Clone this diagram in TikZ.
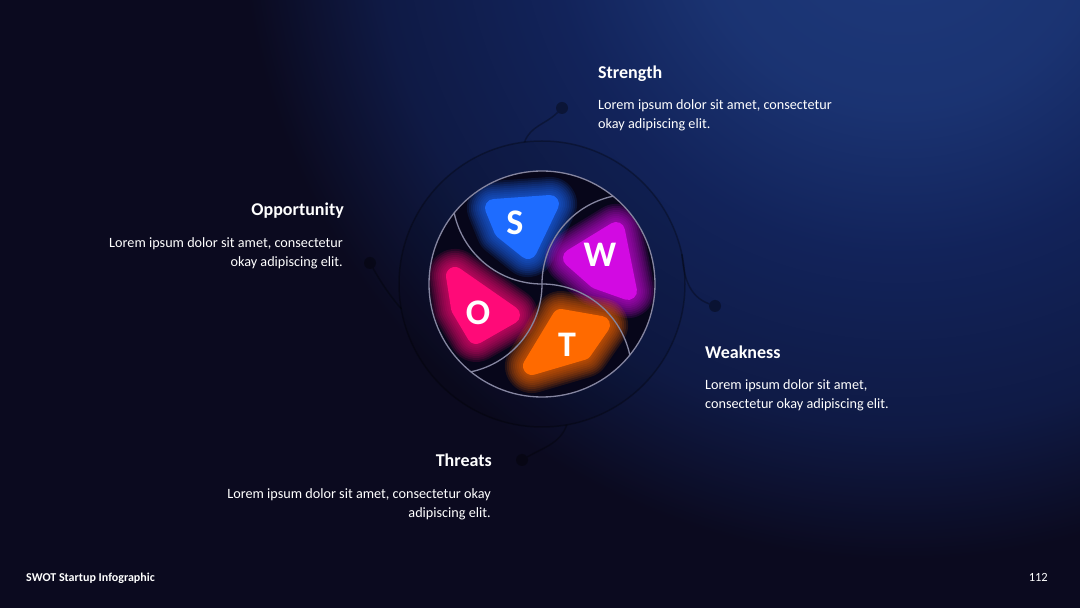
\documentclass[tikz,border=0pt]{standalone}
\usepackage{fontspec}
\setmainfont{Carlito}
\usetikzlibrary{positioning,calc}

\definecolor{bgdark}{HTML}{0B0A1F}
\definecolor{bgmid}{HTML}{0F1A45}
\definecolor{bgblue}{HTML}{12235A}
\definecolor{bgtop}{HTML}{1E3A7C}
\definecolor{diskdark}{HTML}{07061A}
\definecolor{swirlgrey}{HTML}{8585A0}
\definecolor{sblue}{HTML}{1E6CFF}
\definecolor{wmag}{HTML}{D20AE2}
\definecolor{opink}{HTML}{FF0A78}
\definecolor{torange}{HTML}{FF6A00}

\pgfdeclareradialshading{bgglow}{\pgfpoint{0bp}{0bp}}{color(0bp)=(bgtop); color(6.9bp)=(bgtop!70!bgblue); color(11.8bp)=(bgblue); color(17.5bp)=(bgmid); color(22bp)=(bgdark); color(50bp)=(bgdark)}

\tikzset{
  swirl/.style={draw=swirlgrey, line width=1.3pt},
  wire/.style={draw=black, draw opacity=0.3, line width=1.5pt},
  wiredot/.style={circle, fill=black, fill opacity=0.35, inner sep=0pt, minimum size=12pt},
  swotletter/.style={text=white, font=\fontsize{36}{36}\selectfont\bfseries},
  heading/.style={text=white, inner sep=0pt, font=\fontsize{18}{20}\selectfont\bfseries},
  bodytext/.style={text=white, inner sep=0pt, font=\fontsize{14.2}{19.5}\selectfont},
}

\begin{document}
\begin{tikzpicture}[x=1pt,y=1pt]
\useasboundingbox (0,0) rectangle (1080,608);
\clip (0,0) rectangle (1080,608);
\fill[bgdark] (0,0) rectangle (1080,608);
\shade[shading=bgglow] (900,708) circle[radius=750];

\coordinate (O) at (542,324);

% outer ring and connectors
\fill[black, opacity=0.08] (O) circle[radius=143];
\draw[wire] (O) circle[radius=143];

\node[wiredot] (sdot) at (562,500) {};
\node[wiredot] (odot) at (370,345) {};
\node[wiredot] (wdot) at (715,302) {};
\node[wiredot] (tdot) at (522,148) {};
\coordinate (sring) at ($(O)+(97:143)$);
\coordinate (oring) at ($(O)+(190:143)$);
\coordinate (wring) at ($(O)+(12:143)$);
\coordinate (tring) at ($(O)+(-80:143)$);
\draw[wire] (sring) to[out=70, in=225] (sdot);
\draw[wire] (oring) to[out=130, in=-60] (odot);
\draw[wire] (wring) to[out=-85, in=160] (wdot);
\draw[wire] (tring) to[out=-110, in=30] (tdot);

% inner disk with glowing blobs
\fill[diskdark] (O) circle[radius=113];
\coordinate (s1) at (494,400); \coordinate (s2) at (550,404); \coordinate (s3) at (528,358); \coordinate (s4) at (503,378);
\coordinate (w1) at (572,350); \coordinate (w2) at (616,377); \coordinate (w3) at (628,317); \coordinate (w4) at (597,328);
\coordinate (o1) at (455,332); \coordinate (o2) at (511,293); \coordinate (o3) at (476,273); \coordinate (o4) at (460,300);
\coordinate (t1) at (561,290); \coordinate (t2) at (601,283); \coordinate (t3) at (583,257); \coordinate (t4) at (532,242);
\begin{scope}
  \clip (O) circle[radius=113];
  \foreach \k/\clr in {s/sblue,w/wmag,o/opink,t/torange}
  {
    \foreach \w in {54,50,...,22}
      \filldraw[\clr, opacity=0.12, line width=\w pt, line join=round] (\k1) -- (\k2) -- (\k3) -- (\k4) -- cycle;
    \filldraw[\clr, line width=18pt, line join=round] (\k1) -- (\k2) -- (\k3) -- (\k4) -- cycle;
  }
\end{scope}
\foreach \a in {0,90,180,270}
  \draw[swirl] (O) arc[start angle=-90-\a, end angle=-168-\a, radius=89.8];
\draw[swirl] (O) circle[radius=113];

\node[swotletter] (lS) at (515,385) {S};
\node[swotletter] (lW) at (600,353) {W};
\node[swotletter] (lO) at (478,295) {O};
\node[swotletter] (lT) at (567,263) {T};

% texts
\node[heading, anchor=base west] (strength) at (598,529) {Strength};
\node[bodytext, anchor=north west, align=left] (strengthtxt) at (598,509)
  {Lorem ipsum dolor sit amet, consectetur\\okay adipiscing elit.};
\node[heading, anchor=base east] (opportunity) at (344,392) {Opportunity};
\node[bodytext, anchor=north east, align=right] (opportunitytxt) at (343,371)
  {Lorem ipsum dolor sit amet, consectetur\\okay adipiscing elit.};
\node[heading, anchor=base west] (weakness) at (705,249) {Weakness};
\node[bodytext, anchor=north west, align=left] (weaknesstxt) at (705,229)
  {Lorem ipsum dolor sit amet,\\consectetur okay adipiscing elit.};
\node[heading, anchor=base east] (threats) at (492,141) {Threats};
\node[bodytext, anchor=north east, align=right] (threatstxt) at (491,120)
  {Lorem ipsum dolor sit amet, consectetur okay\\adipiscing elit.};

\node[text=white, inner sep=0pt, anchor=base west, font=\fontsize{12}{14}\selectfont\bfseries] (footer) at (26,26) {SWOT Startup Infographic};
\node[text=white, inner sep=0pt, anchor=base east, font=\fontsize{12.5}{14}\selectfont] (pagenum) at (1048,26) {112};
\end{tikzpicture}
\end{document}
